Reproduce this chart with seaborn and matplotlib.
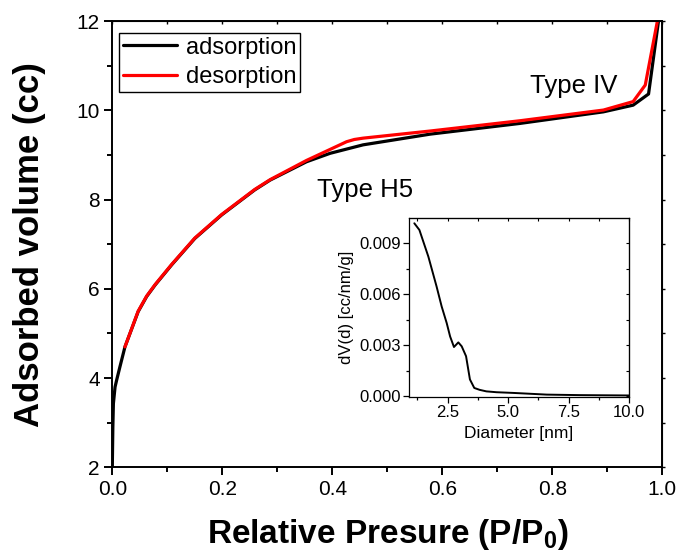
import matplotlib
matplotlib.use("Agg")
import matplotlib.pyplot as plt
from matplotlib.ticker import MultipleLocator, FormatStrFormatter
import pandas as pd
import seaborn as sns

# Nitrogen isotherm: relative pressure vs adsorbed volume
ads_p = [0.000, 0.001, 0.002, 0.005, 0.008, 0.014, 0.023, 0.047, 0.0625, 0.078,
         0.108, 0.150, 0.199, 0.259, 0.287, 0.353, 0.396, 0.456, 0.578, 0.741,
         0.893, 0.947, 0.975, 0.993, 0.998]
ads_v = [2.00, 2.90, 3.43, 3.80, 3.96, 4.26, 4.70, 5.49, 5.83, 6.09,
         6.54, 7.13, 7.66, 8.22, 8.44, 8.85, 9.04, 9.23, 9.47, 9.71,
         9.97, 10.12, 10.37, 12.00, 12.60]

des_p = [0.023, 0.047, 0.0625, 0.078, 0.108, 0.150, 0.199, 0.259, 0.287, 0.353,
         0.426, 0.440, 0.456, 0.578, 0.741, 0.893, 0.947, 0.969, 0.991, 0.996]
des_v = [4.70, 5.50, 5.84, 6.10, 6.55, 7.14, 7.67, 8.23, 8.45, 8.88,
         9.30, 9.35, 9.38, 9.54, 9.77, 10.01, 10.20, 10.57, 12.00, 12.60]

# Pore size distribution
pore_d = [1.12, 1.33, 1.70, 2.04, 2.25, 2.46, 2.60, 2.76, 2.94, 3.08,
          3.26, 3.42, 3.60, 3.82, 4.10, 4.52, 5.20, 6.60, 7.97, 10.0]
pore_dv = [0.01015, 0.00976, 0.0082, 0.00645, 0.00528, 0.0043, 0.00352, 0.0029,
           0.00317, 0.00294, 0.00236, 0.0010, 0.0005, 0.00039, 0.0003, 0.00025,
           0.00021, 0.00011, 0.00008, 0.00006]

ads = pd.DataFrame({"p": ads_p, "v": ads_v})
des = pd.DataFrame({"p": des_p, "v": des_v})
psd = pd.DataFrame({"d": pore_d, "dv": pore_dv})

sns.set_style("ticks")
plt.rcParams["font.family"] = ["Liberation Sans", "DejaVu Sans"]
plt.rcParams["mathtext.fontset"] = "custom"
plt.rcParams["mathtext.rm"] = "Liberation Sans"
plt.rcParams["mathtext.bf"] = "Liberation Sans:bold"
for key in ("text.color", "axes.labelcolor", "xtick.color", "ytick.color",
            "axes.edgecolor"):
    plt.rcParams[key] = "black"

W, H = 678, 556
fig = plt.figure(figsize=(W / 100, H / 100), dpi=100)

# main axes
L, R, T, B = 112.3, 662.3, 21.3, 467.3
ax = fig.add_axes([L / W, 1 - B / H, (R - L) / W, (B - T) / H])
sns.lineplot(data=ads, x="p", y="v", ax=ax, sort=False, estimator=None,
             color="black", lw=2.3, label="adsorption")
sns.lineplot(data=des, x="p", y="v", ax=ax, sort=False, estimator=None,
             color="#ff0000", lw=2.3, label="desorption")
ax.set_xlim(0, 1)
ax.set_ylim(2, 12)
ax.xaxis.set_major_locator(MultipleLocator(0.2))
ax.xaxis.set_minor_locator(MultipleLocator(0.1))
ax.yaxis.set_major_locator(MultipleLocator(2))
ax.yaxis.set_minor_locator(MultipleLocator(1))
ax.tick_params(which="major", direction="out", length=6, width=1.4,
               labelsize=15, pad=3, colors="black")
ax.tick_params(which="minor", direction="out", length=3.5, width=1.4)
for s in ax.spines.values():
    s.set_linewidth(1.4)
    s.set_color("black")

topx = ax.secondary_xaxis("top")
topx.xaxis.set_major_locator(MultipleLocator(0.1))
topx.tick_params(direction="in", length=2.5, width=1, labeltop=False)
rgty = ax.secondary_yaxis("right")
rgty.yaxis.set_major_locator(MultipleLocator(1))
rgty.tick_params(direction="out", length=2.5, width=1, labelright=False)

ax.set_xlabel(r"Relative Presure (P/P$_\mathbf{0}$)", fontsize=24, fontweight="bold")
ax.set_ylabel("Adsorbed volume (cc)", fontsize=25, fontweight="bold")
ax.xaxis.set_label_coords(0.5, -0.112)
ax.yaxis.set_label_coords((46 - L) / (R - L), 0.5)

leg = ax.legend(loc="upper left", bbox_to_anchor=((119 - L) / (R - L), (B - 33) / (B - T)),
                borderaxespad=0, fontsize=17, frameon=True, fancybox=False,
                edgecolor="black", framealpha=1, handlelength=2.3,
                handletextpad=0.4, labelspacing=0.32, borderpad=0.15)
leg.get_frame().set_linewidth(1.0)

ax.text((530 - L) / (R - L), (B - 92.7) / (B - T), "Type IV", transform=ax.transAxes,
        fontsize=18.5, ha="left", va="baseline")
ax.text((317 - L) / (R - L), (B - 197) / (B - T), "Type H5", transform=ax.transAxes,
        fontsize=18.5, ha="left", va="baseline")

# inset: pore size distribution
iL, iR, iT, iB = 409, 629, 218, 397
ins = fig.add_axes([iL / W, 1 - iB / H, (iR - iL) / W, (iB - iT) / H])
sns.lineplot(data=psd, x="d", y="dv", ax=ins, sort=False, estimator=None,
             color="black", lw=1.4)
ins.set_xlim(0.9, 10.0)
ins.set_ylim(-0.00003, 0.01046)
ins.xaxis.set_major_locator(MultipleLocator(2.5))
ins.xaxis.set_minor_locator(MultipleLocator(1.25))
ins.yaxis.set_major_locator(MultipleLocator(0.003))
ins.yaxis.set_minor_locator(MultipleLocator(0.0015))
ins.yaxis.set_major_formatter(FormatStrFormatter("%.3f"))
ins.xaxis.set_major_formatter(FormatStrFormatter("%.1f"))
ins.tick_params(which="major", direction="out", length=4, width=0.9,
                labelsize=12, pad=2)
ins.tick_params(which="minor", direction="out", length=2, width=0.9)
for s in ins.spines.values():
    s.set_linewidth(0.9)
    s.set_color("black")
itop = ins.secondary_xaxis("top")
itop.xaxis.set_major_locator(MultipleLocator(1.25))
itop.tick_params(direction="in", length=2, width=0.8, labeltop=False)
irgt = ins.secondary_yaxis("right")
irgt.yaxis.set_major_locator(MultipleLocator(0.0015))
irgt.tick_params(direction="in", length=2, width=0.8, labelright=False)
ins.set_xlabel("Diameter [nm]", fontsize=12.5, labelpad=4)
ins.set_ylabel("dV(d) [cc/nm/g]", fontsize=12)
ins.yaxis.set_label_coords((354 - iL) / (iR - iL), 0.5)

fig.savefig("out.png", dpi=100)
